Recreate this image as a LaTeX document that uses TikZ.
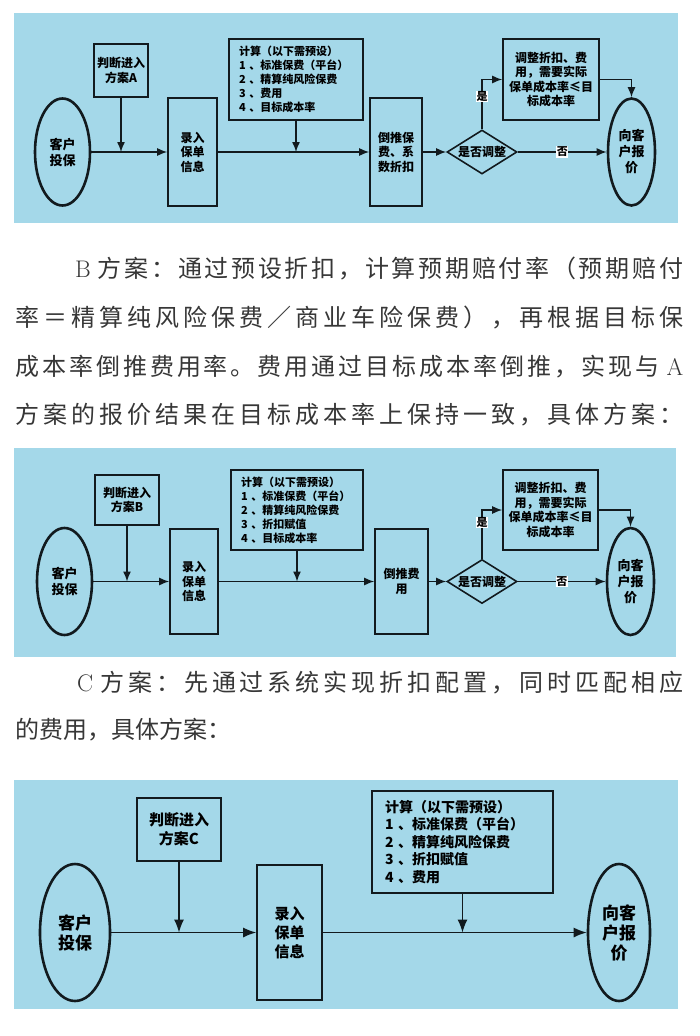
\documentclass[tikz,border=0pt]{standalone}
\usepackage{fontspec}
\usepackage{tikz}
\usetikzlibrary{shapes.geometric,arrows.meta}

\newfontfamily\cjk{Noto Sans CJK SC}

\definecolor{panelblue}{RGB}{164,216,233}
\definecolor{inkgrey}{RGB}{55,55,55}
\definecolor{edge}{RGB}{18,26,30}

% stretchable glue between Han characters, for the justified text lines
\newXeTeXintercharclass\hanclass
\newcount\hanidx
\hanidx="3000
\loop \XeTeXcharclass\hanidx=\hanclass \ifnum\hanidx<"303F \advance\hanidx by 1 \repeat
\hanidx="4E00
\loop \XeTeXcharclass\hanidx=\hanclass \ifnum\hanidx<"9FFF \advance\hanidx by 1 \repeat
\hanidx="FF00
\loop \XeTeXcharclass\hanidx=\hanclass \ifnum\hanidx<"FFEF \advance\hanidx by 1 \repeat
\XeTeXinterchartoks\hanclass\hanclass={\hskip0pt plus 1fil\relax}
\XeTeXinterchartoks 0 \hanclass={\hskip0pt plus 1fil\relax}
\XeTeXinterchartoks\hanclass 0 ={\hskip0pt plus 1fil\relax}
\newcommand{\fullline}[2]{\makebox[#1][s]{\XeTeXinterchartokenstate=1 #2}}

\begin{document}
\begin{tikzpicture}[x=1pt, y=-1pt,
  box/.style={draw=edge, line width=1.6pt, fill=panelblue, inner sep=0pt, align=center,
    font=\cjk\bfseries\fontsize{12}{14.5}\selectfont},
  kbox/.style={box, align=left, inner xsep=10pt, font=\cjk\bfseries\fontsize{11}{14}\selectfont},
  oval/.style={ellipse, draw=edge, line width=2.6pt, fill=panelblue, inner sep=0pt, align=center,
    font=\cjk\bfseries\fontsize{13}{16}\selectfont},
  ask/.style={diamond, aspect=1.6, draw=edge, line width=1.6pt, fill=panelblue, inner sep=0pt,
    minimum width=70pt, minimum height=44pt, font=\cjk\bfseries\fontsize{12}{12}\selectfont},
  flow/.style={draw=edge, line width=1.4pt, -{Latex[length=10pt,width=8pt]}},
  lbl/.style={fill=white, inner sep=0.6pt, font=\cjk\bfseries\fontsize{11}{11}\selectfont},
  para/.style={inner sep=0pt, anchor=west, text=inkgrey, font=\cjk\fontsize{24}{24}\selectfont}]

  \fill [white] (0,0) rectangle (700,1036);
  \useasboundingbox (0,0) rectangle (700,1036);

  % Panels
  \fill [panelblue] (14,13) rectangle (678,223);
  \fill [panelblue] (14,448) rectangle (676,657);
  \fill [panelblue] (14,780) rectangle (678,1009);

  % Scheme A
  \node [oval, minimum width=55pt, minimum height=107pt] (cA) at (62.5,152) {客户\\投保};
  \node [box, minimum width=54pt, minimum height=53pt] (pA) at (121,70.5) {判断进入\\方案A};
  \node [box, minimum width=49pt, minimum height=108pt] (iA) at (192.5,152) {录入\\保单\\信息};
  \node [kbox, text width=114pt, minimum height=81pt] (kA) at (296,79.5)
    {计算（以下需预设）\\1 、标准保费（平台）\\2 、精算纯风险保费\\3 、费用\\4 、目标成本率};
  \node [box, minimum width=52pt, minimum height=108pt] (dA) at (396,152) {倒推保\\费、系\\数折扣};
  \node [ask] (qA) at (482,152) {是否调整};
  \node [box, minimum width=96pt, minimum height=81pt] (jA) at (551,79.5)
    {调整折扣、费\\用，需要实际\\保单成本率≤目\\标成本率};
  \node [oval, minimum width=47pt, minimum height=107pt] (rA) at (631.5,152) {向客\\户报\\价};

  \draw [flow] (cA) -- (iA);
  \draw [flow] (pA) -- (pA |- iA);
  \draw [flow] (iA) -- (dA);
  \draw [flow] (kA) -- (kA |- iA);
  \draw [flow] (dA) -- (qA);
  \draw [flow] (qA.north) |- (jA.west) node [lbl, pos=0.33] {是};
  \draw [flow] (jA.east) -| (rA.north);
  \draw [flow] (qA) -- (rA) node [lbl, midway] {否};

  % Text about scheme B
  \node [para] (b1) at (75,269) {\fullline{608pt}{{\rmfamily B}\hspace{7pt}方案：通过预设折扣，计算预期赔付率（预期赔付}};
  \node [para] (b2) at (15,318) {\fullline{668pt}{率＝精算纯风险保费／商业车险保费），再根据目标保}};
  \node [para] (b3) at (15,367) {\fullline{668pt}{成本率倒推费用率。费用通过目标成本率倒推，实现与\hspace{7pt}{\rmfamily A}}};
  \node [para] (b4) at (15,415) {\fullline{668pt}{方案的报价结果在目标成本率上保持一致，具体方案：}};

  % Scheme B
  \node [oval, minimum width=55pt, minimum height=107pt] (cB) at (64.5,581.5) {客户\\投保};
  \node [box, minimum width=64pt, minimum height=50pt] (pB) at (127,500) {判断进入\\方案B};
  \node [box, minimum width=48pt, minimum height=105pt] (iB) at (194,581.5) {录入\\保单\\信息};
  \node [kbox, text width=112pt, minimum height=80pt] (kB) at (297,510)
    {计算（以下需预设）\\1 、标准保费（平台）\\2 、精算纯风险保费\\3 、折扣赋值\\4 、目标成本率};
  \node [box, minimum width=53pt, minimum height=105pt] (dB) at (401.5,581.5) {倒推费\\用};
  \node [ask] (qB) at (482,581.5) {是否调整};
  \node [box, minimum width=95pt, minimum height=80pt] (jB) at (550.5,510)
    {调整折扣、费\\用，需要实际\\保单成本率≤目\\标成本率};
  \node [oval, minimum width=47pt, minimum height=107pt] (rB) at (630.5,581.5) {向客\\户报\\价};

  \draw [flow] (cB) -- (iB);
  \draw [flow] (pB) -- (pB |- iB);
  \draw [flow] (iB) -- (dB);
  \draw [flow] (kB) -- (kB |- iB);
  \draw [flow] (dB) -- (qB);
  \draw [flow] (qB.north) |- (jB.west) node [lbl, pos=0.37] {是};
  \draw [flow] (jB.east) -| (rB.north);
  \draw [flow] (qB) -- (rB) node [lbl, midway] {否};

  % Text about scheme C
  \node [para] (c1) at (77,683) {\fullline{606pt}{{\rmfamily C}\hspace{7pt}方案：先通过系统实现折扣配置，同时匹配相应}};
  \node [para] (c2) at (15,730) {的费用，具体方案：};

  % Scheme C
  \node [oval, minimum width=70pt, minimum height=137pt, font=\cjk\bfseries\fontsize{17}{20}\selectfont]
    (cC) at (75,932.5) {客户\\投保};
  \node [box, minimum width=84pt, minimum height=63pt, font=\cjk\bfseries\fontsize{15}{19}\selectfont]
    (pC) at (179,829.5) {判断进入\\方案C};
  \node [box, minimum width=65pt, minimum height=135pt, font=\cjk\bfseries\fontsize{15}{19}\selectfont]
    (iC) at (289.5,932.5) {录入\\保单\\信息};
  \node [kbox, text width=155pt, inner xsep=13pt, minimum height=102pt, font=\cjk\bfseries\fontsize{14}{17.5}\selectfont]
    (kC) at (462.5,842) {计算（以下需预设）\\1 、标准保费（平台）\\2 、精算纯风险保费\\3 、折扣赋值\\4 、费用};
  \node [oval, minimum width=62pt, minimum height=137pt, font=\cjk\bfseries\fontsize{17}{20}\selectfont]
    (rC) at (619,932.5) {向客\\户报\\价};

  \draw [flow, -{Latex[length=13pt,width=10pt]}] (cC) -- (iC);
  \draw [flow, -{Latex[length=13pt,width=10pt]}] (pC) -- (pC |- iC);
  \draw [flow, -{Latex[length=13pt,width=10pt]}] (iC) -- (rC);
  \draw [flow, -{Latex[length=13pt,width=10pt]}] (kC) -- (kC |- iC);
\end{tikzpicture}
\end{document}
